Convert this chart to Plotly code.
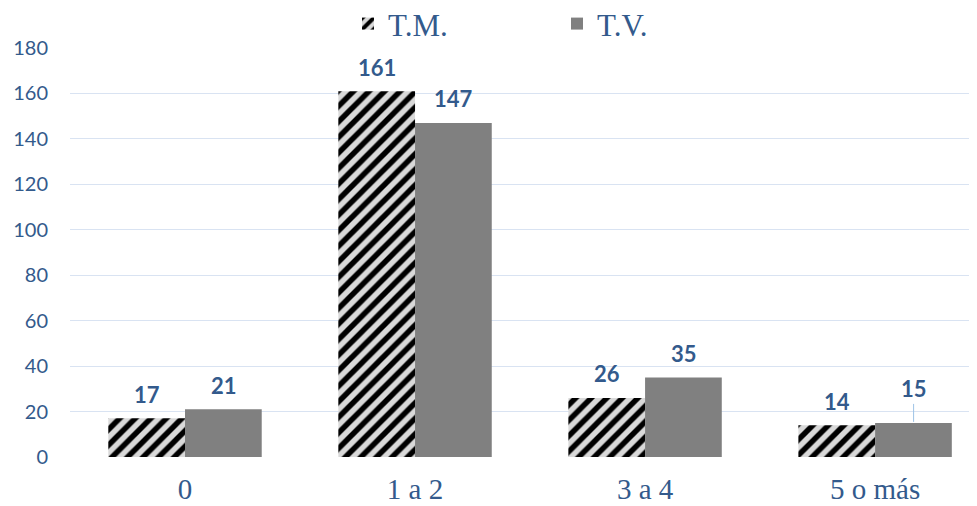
import plotly.graph_objects as go

categories = ["0", "1 a 2", "3 a 4", "5 o más"]
tm_values = [17, 161, 26, 14]
tv_values = [21, 147, 35, 15]
series_names = ["T.M.", "T.V."]
y_ticks = [0, 20, 40, 60, 80, 100, 120, 140, 160, 180]

BLUE = "#335A8C"
GRID = "#D9E3F2"

fig = go.Figure()
fig.add_trace(go.Bar(
    name=series_names[0], x=categories, y=tm_values,
    marker=dict(color="#D9D9D9", line=dict(width=0),
                pattern=dict(shape="/", fgcolor="#000000", bgcolor="#D9D9D9",
                             fgopacity=1, size=11, solidity=0.5)),
))
fig.add_trace(go.Bar(
    name=series_names[1], x=categories, y=tv_values,
    marker=dict(color="#808080", line=dict(width=0)),
))

label_font = dict(family="Lato, 'Open Sans', sans-serif", size=22, color=BLUE)
half = 38.5
for cat, v in zip(categories, tm_values):
    fig.add_annotation(x=cat, y=v, text="<b>%d</b>" % v, showarrow=False,
                       xshift=-half, yshift=24, yanchor="middle", font=label_font)
for i, (cat, v) in enumerate(zip(categories, tv_values)):
    if i == len(categories) - 1:
        fig.add_annotation(x=cat, y=v, text="<b>%d</b>" % v, showarrow=True,
                           arrowhead=0, arrowwidth=1, arrowcolor="#9DC3E6",
                           ax=0, ay=-34, standoff=1, xshift=half,
                           font=label_font)
    else:
        fig.add_annotation(x=cat, y=v, text="<b>%d</b>" % v, showarrow=False,
                           xshift=half, yshift=24, yanchor="middle", font=label_font)

# The page body has an 8px margin, so the figure is sized to fill the rest of the window.
fig.update_layout(
    width=969, height=498,
    margin=dict(l=62, r=0, t=40, b=49, autoexpand=False),
    paper_bgcolor="white", plot_bgcolor="white",
    barmode="group", bargap=0.333, bargroupgap=0,
    showlegend=True,
    legend=dict(orientation="h", x=0.3065, xanchor="left",
                yref="container", y=0.968, yanchor="middle",
                font=dict(family="'Liberation Serif', 'Times New Roman', serif",
                          size=31, color=BLUE),
                entrywidth=164, itemsizing="constant", traceorder="normal"),
    xaxis=dict(range=[-0.5, 3.443], showgrid=False, zeroline=False,
               showline=False, ticks="", automargin=False,
               ticklabelstandoff=12,
               tickfont=dict(family="'Liberation Serif', 'Times New Roman', serif",
                             size=29, color=BLUE)),
    yaxis=dict(range=[0, 180], tickvals=y_ticks, showgrid=True, gridcolor=GRID,
               gridwidth=1, zeroline=False, showline=False, ticks="",
               automargin=False, ticklabelstandoff=21,
               tickfont=dict(family="Lato, 'Open Sans', sans-serif", size=20, color=BLUE)),
)

fig.write_html("out.html")
